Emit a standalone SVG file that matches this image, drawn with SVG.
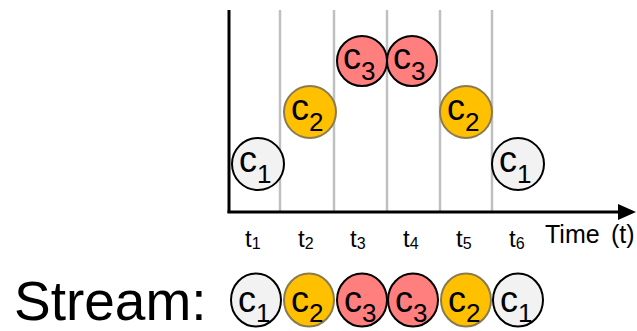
<svg xmlns="http://www.w3.org/2000/svg" width="637" height="331" viewBox="0 0 637 331">
<style>
text { font-family: "Liberation Sans", Arial, sans-serif; fill: #000; }
.grid { stroke: #c0c0c0; stroke-width: 2.5; }
.axis { stroke: #000; stroke-width: 3; fill: none; }
.n1 { fill: #f2f2f2; stroke: #000; stroke-width: 2; }
.n2 { fill: #ffc000; stroke: #8a7a50; stroke-width: 2; }
.n3 { fill: #ff7f7f; stroke: #000; stroke-width: 2; }
.lab { font-size: 36px; }
.sub { font-size: 26px; }
.tl { font-size: 24px; }
.ts { font-size: 16px; }
</style>
<g id="grid">
<line class="grid" x1="280" y1="10" x2="280" y2="212"/>
<line class="grid" x1="334" y1="10" x2="334" y2="212"/>
<line class="grid" x1="387" y1="10" x2="387" y2="212"/>
<line class="grid" x1="440" y1="10" x2="440" y2="212"/>
<line class="grid" x1="492" y1="10" x2="492" y2="212"/>
</g>
<g id="connectors">
<line class="axis" x1="229" y1="10" x2="229" y2="213"/>
<line class="axis" x1="227.5" y1="212" x2="620" y2="212"/>
<polygon points="618,204 636,212 618,220" fill="#000"/>
</g>
<g id="n1a"><circle class="n1" cx="258" cy="164" r="26"/><text class="lab" x="239" y="172">c<tspan class="sub" dy="11">1</tspan></text></g>
<g id="n2a"><circle class="n2" cx="310" cy="112" r="26"/><text class="lab" x="291" y="120">c<tspan class="sub" dy="11">2</tspan></text></g>
<g id="n3a"><circle class="n3" cx="362" cy="61" r="25"/><text class="lab" x="343" y="69">c<tspan class="sub" dy="11">3</tspan></text></g>
<g id="n3b"><circle class="n3" cx="412" cy="61" r="25"/><text class="lab" x="393" y="69">c<tspan class="sub" dy="11">3</tspan></text></g>
<g id="n2b"><circle class="n2" cx="466" cy="112" r="26"/><text class="lab" x="447" y="120">c<tspan class="sub" dy="11">2</tspan></text></g>
<g id="n1b"><circle class="n1" cx="518" cy="164" r="26"/><text class="lab" x="499" y="172">c<tspan class="sub" dy="11">1</tspan></text></g>
<g id="timelabels">
<text class="tl" x="245" y="247">t<tspan class="ts" dy="2">1</tspan></text>
<text class="tl" x="298" y="247">t<tspan class="ts" dy="2">2</tspan></text>
<text class="tl" x="350" y="247">t<tspan class="ts" dy="2">3</tspan></text>
<text class="tl" x="403" y="247">t<tspan class="ts" dy="2">4</tspan></text>
<text class="tl" x="456" y="247">t<tspan class="ts" dy="2">5</tspan></text>
<text class="tl" x="509" y="247">t<tspan class="ts" dy="2">6</tspan></text>
<text x="545" y="243" font-size="25">Time<tspan x="611">(t)</tspan></text>
</g>
<g id="stream">
<text x="14" y="320" font-size="55">Stream:</text>
<g id="s1"><ellipse class="n1" cx="256" cy="300" rx="25" ry="26.5"/><text class="lab" x="238" y="312">c<tspan class="sub" dy="10">1</tspan></text></g>
<g id="s2"><ellipse class="n2" cx="309" cy="300" rx="25" ry="26.5"/><text class="lab" x="291" y="312">c<tspan class="sub" dy="10">2</tspan></text></g>
<g id="s3"><ellipse class="n3" cx="362" cy="300" rx="25" ry="26.5"/><text class="lab" x="344" y="312">c<tspan class="sub" dy="10">3</tspan></text></g>
<g id="s4"><ellipse class="n3" cx="413" cy="300" rx="25" ry="26.5"/><text class="lab" x="395" y="312">c<tspan class="sub" dy="10">3</tspan></text></g>
<g id="s5"><ellipse class="n2" cx="466" cy="300" rx="25" ry="26.5"/><text class="lab" x="448" y="312">c<tspan class="sub" dy="10">2</tspan></text></g>
<g id="s6"><ellipse class="n1" cx="518" cy="300" rx="25" ry="26.5"/><text class="lab" x="500" y="312">c<tspan class="sub" dy="10">1</tspan></text></g>
</g>
</svg>
